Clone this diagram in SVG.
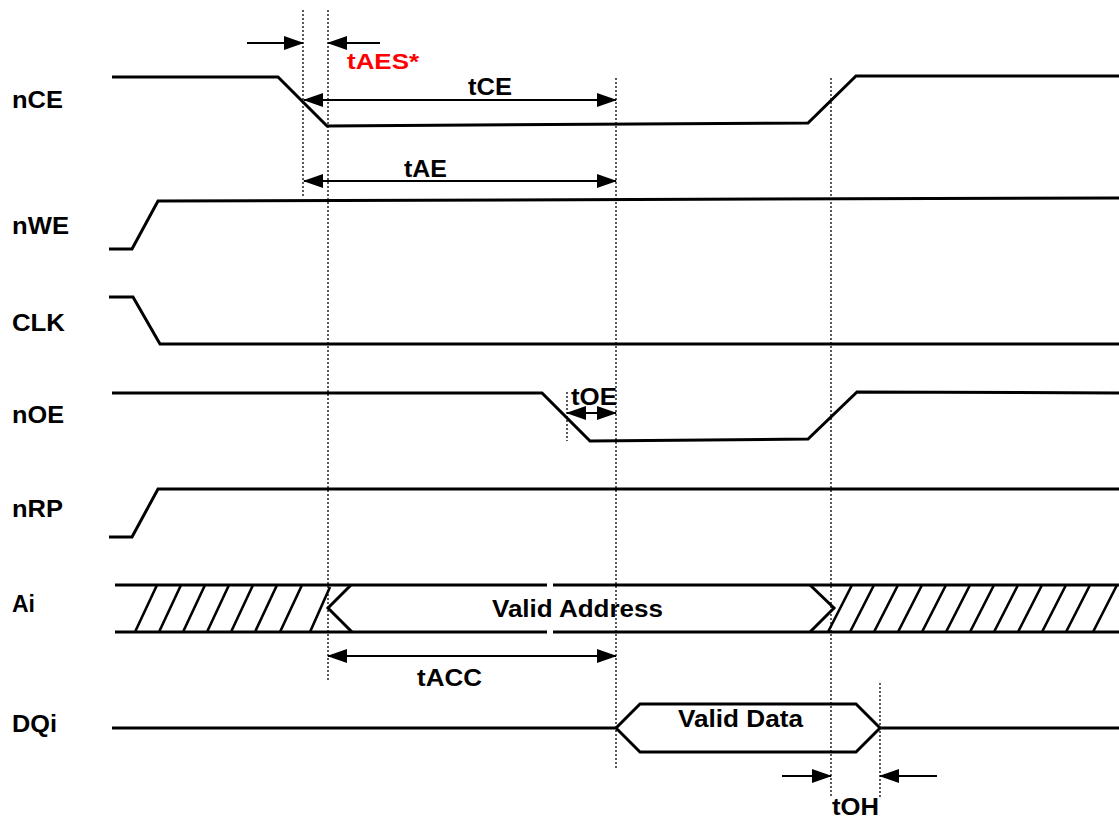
<svg xmlns="http://www.w3.org/2000/svg" width="1119" height="818" viewBox="0 0 1119 818">
<style>
.sig{fill:none;stroke:#000;stroke-width:3;stroke-linejoin:miter}
.hat{fill:none;stroke:#000;stroke-width:2.6}
.dot{fill:none;stroke:#000;stroke-width:1.3;stroke-dasharray:2,2}
.arr{fill:none;stroke:#000;stroke-width:2}
.lbl{font-family:"Liberation Sans",Arial,sans-serif;font-weight:bold;font-size:23px;fill:#000}
.red{fill:#ff0000;font-size:22px}
</style>
<defs>
<marker id="ah" markerUnits="userSpaceOnUse" markerWidth="20" markerHeight="16" refX="19" refY="7" orient="auto-start-reverse" viewBox="0 0 20 14">
<path d="M0,0 L20,7 L0,14 Z" fill="#000"/>
</marker>
</defs>
<rect width="1119" height="818" fill="#fff"/>
<g id="guides">
<line class="dot" x1="303" y1="10" x2="303" y2="198"/>
<line class="dot" x1="328" y1="10" x2="328" y2="680"/>
<line class="dot" x1="616" y1="78" x2="616" y2="770"/>
<line class="dot" x1="831" y1="78" x2="831" y2="797"/>
<line class="dot" x1="880" y1="683" x2="880" y2="797"/>
<line class="dot" x1="567" y1="392" x2="567" y2="441"/>
</g>
<g id="labels">
<text class="lbl" x="12" y="108" textLength="51" lengthAdjust="spacingAndGlyphs">nCE</text>
<text class="lbl" x="12" y="234" textLength="57" lengthAdjust="spacingAndGlyphs">nWE</text>
<text class="lbl" x="12" y="331" textLength="53" lengthAdjust="spacingAndGlyphs">CLK</text>
<text class="lbl" x="12" y="423" textLength="52" lengthAdjust="spacingAndGlyphs">nOE</text>
<text class="lbl" x="12" y="517" textLength="51" lengthAdjust="spacingAndGlyphs">nRP</text>
<text class="lbl" x="12" y="612" textLength="23" lengthAdjust="spacingAndGlyphs">Ai</text>
<text class="lbl" x="12" y="732" textLength="45" lengthAdjust="spacingAndGlyphs">DQi</text>
</g>
<g id="nCE"><polyline class="sig" points="112,77 278,77 327,126 808,123 856,76 1119,76"/></g>
<g id="nWE"><polyline class="sig" points="109,249 132,249 158,201 1119,198"/></g>
<g id="CLK"><polyline class="sig" points="109,297 133,297 160,344 1119,344"/></g>
<g id="nOE"><polyline class="sig" points="112,393 542,393 590,441 808,439 857,392 1119,393"/></g>
<g id="nRP"><polyline class="sig" points="109,537 132,537 158,489 1119,489"/></g>
<g id="Ai">
<line class="sig" x1="115" y1="585" x2="547" y2="585"/>
<line class="sig" x1="553" y1="585" x2="1119" y2="585"/>
<line class="sig" x1="115" y1="632" x2="547" y2="632"/>
<line class="sig" x1="553" y1="632" x2="1119" y2="632"/>
<polyline class="sig" points="351,585 328,608 352,632"/>
<polyline class="sig" points="810,585 834,608 810,632"/>
<path class="hat" d="M135,632 L157,585 M159,632 L181,585 M183,632 L205,585 M207,632 L229,585 M231,632 L253,585 M255,632 L277,585 M280,632 L302,585 M310,632 L330,587 M828,632 L852,585 M850,632 L874,585 M874,632 L898,585 M898,632 L922,585 M922,632 L946,585 M946,632 L970,585 M970,632 L994,585 M994,632 L1018,585 M1018,632 L1042,585 M1042,632 L1066,585 M1066,632 L1090,585 M1093,632 L1117,585"/>
<text class="lbl" x="492" y="617" textLength="171" lengthAdjust="spacingAndGlyphs">Valid Address</text>
</g>
<g id="DQi">
<polyline class="sig" points="112,728 616,728 640,704 856,704 880,728 856,752 640,752 616,728"/>
<line class="sig" x1="880" y1="728" x2="1119" y2="728"/>
<text class="lbl" x="678" y="727" textLength="125" lengthAdjust="spacingAndGlyphs">Valid Data</text>
</g>
<g id="connectors">
<line class="arr" x1="247" y1="43" x2="303" y2="43" marker-end="url(#ah)"/>
<line class="arr" x1="380" y1="43" x2="328" y2="43" marker-end="url(#ah)"/>
<line class="arr" x1="304" y1="100" x2="616" y2="100" marker-start="url(#ah)" marker-end="url(#ah)"/>
<line class="arr" x1="304" y1="181" x2="616" y2="181" marker-start="url(#ah)" marker-end="url(#ah)"/>
<line class="arr" x1="567" y1="413" x2="616" y2="413" marker-start="url(#ah)" marker-end="url(#ah)"/>
<line class="arr" x1="328" y1="656" x2="616" y2="656" marker-start="url(#ah)" marker-end="url(#ah)"/>
<line class="arr" x1="782" y1="776" x2="831" y2="776" marker-end="url(#ah)"/>
<line class="arr" x1="937" y1="776" x2="880" y2="776" marker-end="url(#ah)"/>
</g>
<g id="timing-labels">
<text class="lbl red" x="347" y="69" textLength="72" lengthAdjust="spacingAndGlyphs">tAES*</text>
<text class="lbl" x="468" y="95" textLength="44" lengthAdjust="spacingAndGlyphs">tCE</text>
<text class="lbl" x="404" y="177" textLength="43" lengthAdjust="spacingAndGlyphs">tAE</text>
<text class="lbl" x="571" y="405" textLength="46" lengthAdjust="spacingAndGlyphs">tOE</text>
<text class="lbl" x="417" y="686" textLength="65" lengthAdjust="spacingAndGlyphs">tACC</text>
<text class="lbl" x="832" y="815" textLength="47" lengthAdjust="spacingAndGlyphs">tOH</text>
</g>
</svg>
